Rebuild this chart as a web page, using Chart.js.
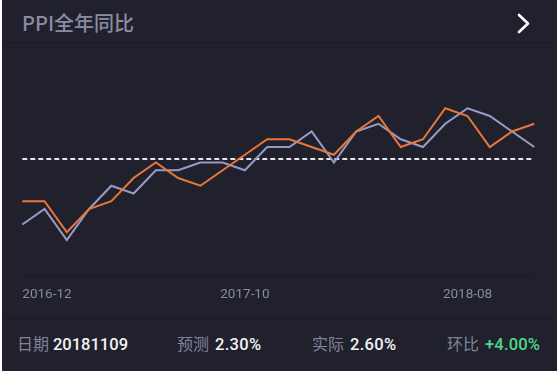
<!DOCTYPE html>
<html>
<head>
<meta charset="utf-8">
<title>PPI全年同比</title>
<script src="https://cdn.jsdelivr.net/npm/chart.js@4.4.0/dist/chart.umd.min.js"></script>
<style>
    html, body { margin: 0; padding: 0; background: #fff; width: 557px; height: 374px; overflow: hidden; }
    #panel { position: absolute; left: 2px; top: 0; width: 555px; height: 371px; background: #20212c; }
    .line { position: absolute; left: 2px; width: 555px; height: 1px; background: #191a22; }
    #title { position: absolute; left: 22px; top: 13px; font: 500 20px/20px "Noto Sans CJK SC", sans-serif; color: #8b8ba3; }
    #arrow { position: absolute; left: 510px; top: 8px; }
    #myChart { position: absolute; left: 0; top: 45px; }
    .info { position: absolute; top: 335px; font: 16px/20px Roboto, "Noto Sans CJK SC", sans-serif; white-space: nowrap; }
    .info .k { color: #83839a; margin-right: 2px; }
    .info .v { color: #f2f2f6; font-weight: 500; font-size: 16.5px; letter-spacing: 0.3px; }
    .info .up { color: #4fd88e; font-weight: 500; font-size: 16.5px; letter-spacing: 0.2px; }
    #info-date { letter-spacing: 0; }
    .info .k.first { margin-right: 0; }
</style>
</head>
<body>
<div id="panel"></div>
<div id="title">PPI全年同比</div>
<svg id="arrow" width="30" height="32"><polyline points="9,7 18,15.5 9,24" fill="none" stroke="#ffffff" stroke-width="2.6" stroke-linecap="round" stroke-linejoin="round"/></svg>
<div class="line" style="top:42px"></div>
<canvas id="myChart" width="557" height="271"></canvas>
<div class="line" style="top:318px"></div>
<div class="info" style="left:17px"><span class="k first">日期</span> <span class="v" id="info-date"></span></div>
<div class="info" style="left:177px"><span class="k">预测</span> <span class="v" id="info-forecast"></span></div>
<div class="info" style="left:312px"><span class="k">实际</span> <span class="v" id="info-actual"></span></div>
<div class="info" style="left:447px"><span class="k">环比</span> <span class="up" id="info-mom"></span></div>
<script>
    "use strict";
    // =================================== 数据 =================================== //
    // 月份
    var months = ['2016-12', '2017-01', '2017-02', '2017-03', '2017-04', '2017-05',
        '2017-06', '2017-07', '2017-08', '2017-09', '2017-10', '2017-11',
        '2017-12', '2018-01', '2018-02', '2018-03', '2018-04', '2018-05',
        '2018-06', '2018-07', '2018-08', '2018-09', '2018-10', '2018-11'];
    // 实际值(橙色)
    var actualData = [1.6, 1.6, 1.2, 1.5, 1.6, 1.9, 2.1, 1.9, 1.8, 2.0, 2.2, 2.4,
        2.4, 2.3, 2.2, 2.5, 2.7, 2.3, 2.4, 2.8, 2.7, 2.3, 2.5, 2.6];
    // 预测值(紫色)
    var forecastData = [1.3, 1.5, 1.1, 1.5, 1.8, 1.7, 2.0, 2.0, 2.1, 2.1, 2.0, 2.3,
        2.3, 2.5, 2.1, 2.5, 2.6, 2.4, 2.3, 2.6, 2.8, 2.7, 2.5, 2.3];
    // x轴显示的刻度
    var shownTicks = ['2016-12', '2017-10', '2018-08'];
    // 底部信息
    var infoDate = '20181109';
    var infoForecast = '2.30%';
    var infoActual = '2.60%';
    var infoMom = '+4.00%';

    // 实际值平均线
    function getAverage(arr) {
        var sum = 0;
        for (var i = 0; i < arr.length; i++) {
            sum += arr[i];
        }
        return sum / arr.length;
    }

    // =================================== 方法执行 =================================== //
    function setInfo() {
        document.getElementById('info-date').textContent = infoDate;
        document.getElementById('info-forecast').textContent = infoForecast;
        document.getElementById('info-actual').textContent = infoActual;
        document.getElementById('info-mom').textContent = infoMom;
    }

    //设置图表
    function setChart() {
        var avg = getAverage(actualData);
        var avgData = months.map(function () { return avg; });
        var lineChartData = {
            labels: months,
            datasets: [
                {
                    label: '实际',
                    borderColor: '#e8783a',
                    borderWidth: 2,
                    data: actualData
                },
                {
                    label: '预测',
                    borderColor: '#9a9ac6',
                    borderWidth: 2,
                    data: forecastData
                },
                {
                    label: '平均',
                    borderColor: '#e4e4ec',
                    borderWidth: 2,
                    borderDash: [5, 3],
                    data: avgData
                }
            ]
        };

        var ctx = document.getElementById('myChart');
        var chart = new Chart(ctx, {
            type: 'line',
            data: lineChartData,
            options: {
                responsive: false,
                animation: false,
                devicePixelRatio: 1,
                elements: {
                    line: { tension: 0, fill: false },
                    point: { radius: 0, hoverRadius: 0 }
                },
                layout: {
                    padding: { left: 22.3, right: 22.7, top: 10, bottom: 0 }
                },
                plugins: {
                    legend: { display: false },
                    tooltip: { enabled: false }
                },
                scales: {
                    x: {
                        grid: { display: false, drawTicks: false },
                        border: { display: true, color: '#1a1b23', width: 1 },
                        ticks: {
                            autoSkip: false,
                            maxRotation: 0,
                            minRotation: 0,
                            align: 'inner',
                            padding: 11,
                            color: '#8a8aa2',
                            font: { family: 'Roboto', size: 13.5 },
                            callback: function (value) {
                                var l = this.getLabelForValue(value);
                                return shownTicks.indexOf(l) >= 0 ? l : '';
                            }
                        },
                        afterFit: function (scale) {
                            scale.height = 40;
                        }
                    },
                    y: {
                        display: false,
                        min: 0.6355,
                        max: 3.487
                    }
                }
            }
        });
    }

    setInfo();
    setChart();
</script>
</body>
</html>
